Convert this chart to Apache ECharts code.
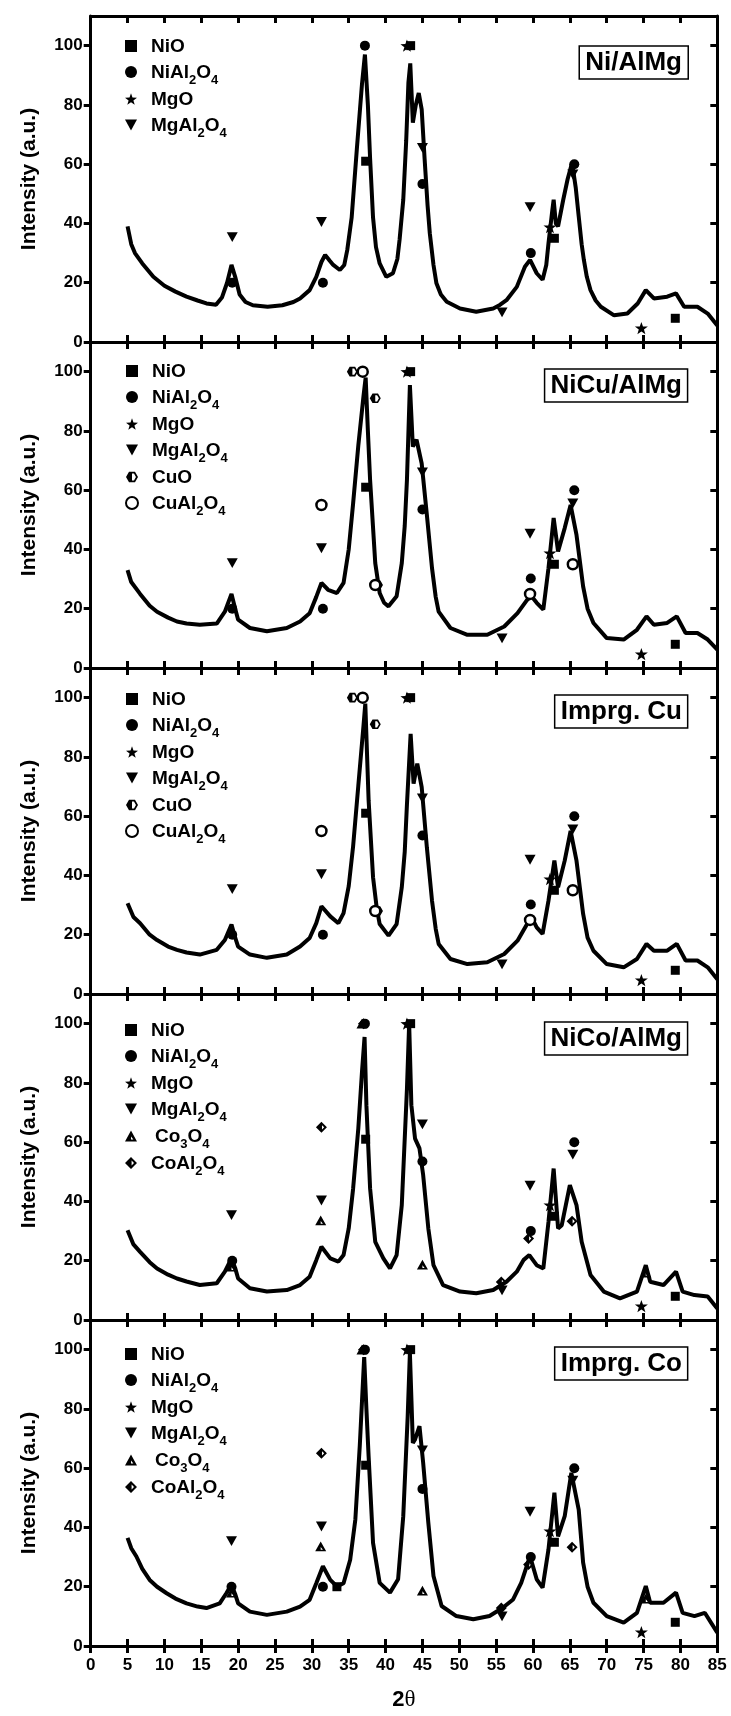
<!DOCTYPE html>
<html>
<head>
<meta charset="utf-8">
<script src="https://cdn.jsdelivr.net/npm/echarts@6/dist/echarts.min.js"></script>
<style>
html, body { margin: 0; padding: 0; background: #fff; }
#main { width: 731px; height: 1716px; }
</style>
</head>
<body>
<div id="main"></div>
<script>
// XRD patterns, [2theta, intensity]
var curveNiAlMg = [[5,39],[5.5,33],[6,30],[7,26.5],[8.5,22],[10,19],[11.5,17],[13,15.3],[14.5,14],[15.7,13],[17,12.6],[17.8,15],[18.5,20],[19.1,26],[19.6,22],[20.2,16],[21,13.5],[22,12.4],[24,11.9],[26,12.4],[27.5,13.5],[28.4,14.7],[29.7,17.5],[30.6,22],[31.3,27],[31.8,29.4],[32.4,27.5],[32.9,26],[33.8,24.3],[34.4,26],[34.8,31],[35.4,42],[36.1,65],[36.8,87],[37.2,97],[37.6,80],[37.9,62],[38.3,42],[38.7,32],[39.2,26.5],[40.1,22],[41,23.2],[41.6,28],[41.9,34.5],[42.4,48],[42.8,68],[43.1,87.6],[43.35,94],[43.7,74],[44.1,80],[44.5,84],[44.9,78.5],[45.3,61.6],[45.7,46],[46,36.7],[46.5,26],[46.9,19.8],[47.5,16],[48.3,13.6],[50.1,11.3],[52.3,10.2],[54.6,11.3],[55.5,12.5],[56.4,14.1],[57.8,18.6],[58.9,25.4],[59.6,27.7],[60.5,23.2],[61.3,21],[61.8,26],[62.1,33.3],[62.6,44],[62.8,48],[63.1,40],[63.4,39],[64.1,48],[64.7,55],[65.3,60.5],[65.8,52],[66.2,42.4],[66.6,33],[66.9,27.7],[67.3,22],[67.8,17.5],[68.5,14],[69.2,11.9],[71,9],[72.8,9.6],[74.2,13],[75.3,17.5],[76.4,14.7],[78.2,15.3],[79.4,16.4],[80.5,11.9],[82.3,11.9],[83.7,9.6],[85,5.6]];
var curveNiCuAlMg = [[5,33],[5.5,29],[6.7,25],[8,21],[9,19],[10.5,17],[11.7,15.7],[13,15],[14.8,14.6],[17.1,15],[18.2,19],[19.1,25],[19.6,20],[20,16.3],[21.6,13.5],[23.9,12.4],[26.6,13.5],[28.4,15.7],[29.7,18.5],[30.6,24],[31.3,28.7],[32.2,26.4],[33.4,25.3],[34.3,28.7],[35,40],[35.6,55.6],[36.3,75],[37,91.6],[37.3,98],[37.6,80],[37.9,63.5],[38.6,35.4],[39.2,25.3],[39.8,22],[40.4,20.8],[41.5,24.2],[42.2,35.4],[42.6,48],[42.9,63.5],[43.3,95.5],[43.7,74.7],[44.2,77],[44.9,69],[45.6,51.7],[46.3,33.7],[46.8,24],[47.2,19],[48.8,13.5],[51.1,11.2],[53.8,11.2],[56.1,14],[57.9,18.5],[59.2,23],[59.8,24.2],[60.5,22],[61.4,19.7],[62.1,33.7],[62.8,50.6],[63.4,39.3],[64.3,47.2],[65.1,55],[65.9,44.9],[66.8,27.5],[67.4,20],[68.2,15.2],[70,10.1],[72.3,9.6],[74.1,12.9],[75.4,17.4],[76.4,14.6],[78.2,15.2],[79.5,17.4],[80.7,11.8],[82.3,11.8],[83.7,9.6],[85,6.2]];
var curveImprgCu = [[5,30.6],[5.8,26],[6.7,23.9],[8,20],[9,18.2],[10.5,16],[11.7,14.9],[13,14],[14.8,13.3],[17.1,14.9],[18.2,18.2],[19.1,23.4],[19.6,19],[20,16],[21.6,13.3],[23.9,12.2],[26.6,13.3],[28.4,16],[29.7,18.9],[30.6,23.9],[31.3,29.6],[32.5,26.2],[33.6,23.9],[34.3,27.3],[35,36.4],[35.6,49.9],[36.3,70.2],[37,90.4],[37.25,98],[37.7,65.3],[38.3,39.4],[38.8,29],[39.2,23.6],[40.4,19.7],[41.5,23.6],[42.2,36],[42.6,48],[42.9,64],[43.4,87.8],[43.8,71],[44.3,77.7],[44.9,69.8],[45.6,49.5],[46.3,31.5],[46.8,22],[47.2,16.9],[48.8,11.8],[51.1,10.1],[53.8,10.7],[56.1,13.5],[57.9,18],[59.2,23.6],[59.8,25.9],[60.5,22.5],[61.3,20.3],[62.1,31.5],[62.9,45],[63.4,36],[64.3,45],[65.1,55],[65.9,45],[66.8,27],[67.4,19],[68.2,14.6],[70,10.1],[72.3,9],[74.1,11.8],[75.4,16.9],[76.4,14.6],[78.2,14.6],[79.5,16.9],[80.7,11.3],[82.3,11.3],[83.7,9],[85,5]];
var curveNiCoAlMg = [[5,30.3],[5.8,25.5],[6.7,23],[8,19.5],[9,17.4],[10.5,15.3],[11.7,14],[13,13],[14.8,11.8],[17.1,12.4],[18.2,16.3],[19.1,20.8],[19.6,17.5],[20,14],[21.6,10.7],[23.9,9.6],[26.6,10.1],[28.4,11.8],[29.7,14.6],[30.6,20.2],[31.3,24.7],[32.5,20.8],[33.6,19.7],[34.3,21.9],[35,30.9],[35.6,44.4],[36.3,64.6],[36.8,83.7],[37.15,95.5],[37.4,72.5],[37.9,44.4],[38.6,26.4],[39.7,20.8],[40.6,17.4],[41.5,21.9],[42.2,38.8],[42.9,78],[43.2,100],[43.5,72.5],[44,61.2],[44.6,57.9],[45.1,48.9],[45.8,30.9],[46.5,18.5],[47.8,11.8],[50.1,9.6],[52.3,9],[54.6,10.1],[56.4,12.9],[57.8,16.3],[58.7,20.2],[59.5,21.9],[60.5,18.5],[61.4,17.4],[62.1,33.1],[62.8,51.1],[63.4,30.9],[63.9,32],[65,45.5],[65.9,38.8],[66.6,26.4],[67.8,15.2],[69.6,9.6],[71.8,7.3],[74.1,9.6],[75.3,18.5],[75.9,12.9],[77.7,11.8],[79.4,16.3],[80.3,9.6],[81.9,8.4],[83.7,7.9],[85,3.9]];
var curveImprgCo = [[5,36.5],[5.5,33],[6.2,30.2],[7,26],[8,22.3],[9,20],[10.3,17.8],[11.5,16],[13,14.4],[14.5,13.3],[15.7,12.8],[17.5,14.4],[18.4,17.8],[19.1,20.7],[19.6,17.5],[20,14.4],[21.6,11.6],[23.9,10.5],[26.6,11.6],[28.4,13.3],[29.7,15.6],[30.6,21.2],[31.5,26.9],[32.5,22.3],[33.4,20.1],[34.3,21.2],[35.2,29.1],[35.9,42.7],[36.5,67.5],[37.1,97.5],[37.4,80],[37.7,64],[38.3,34.8],[39.2,21.3],[40.6,18],[41.7,22.5],[42.4,43.8],[43,77.5],[43.3,98.9],[43.7,68.5],[44,69.7],[44.6,74.2],[45.1,61.8],[45.8,41.6],[46.5,23.6],[47.6,13.5],[49.6,10.1],[51.9,9],[54.1,10.1],[55.9,12.9],[57.3,15.7],[58.4,21.3],[59.6,30.3],[60.5,22.5],[61.3,19.7],[62.1,32.6],[62.9,51.7],[63.4,37],[64.3,43.8],[65.2,58.4],[66.2,46],[66.8,28.1],[67.4,20],[68.2,14.6],[70,10.1],[72.3,7.9],[74.1,11.2],[75.3,20.2],[75.9,14.6],[77.7,14.6],[79.4,18],[80.3,11.2],[81.9,10.1],[83.3,11.2],[85,4.5]];

// phase markers
var nioMarks = [[37.3,61],[43.4,100],[62.9,35],[79.3,8]];
var nioMarksCo = [[33.4,20],[37.3,61],[43.4,100],[62.9,35],[79.3,8]];
var mgoMarks = [[42.9,100],[62.3,38.8],[74.7,4.7]];
var nial1 = [[19.2,20],[31.5,20],[37.2,100],[45,53.3],[59.7,30],[65.6,60]];
var nialCu = [[19.2,20],[31.5,20],[45,53.5],[59.7,30.2],[65.6,60]];
var nialCo4 = [[19.2,20],[37.2,100],[45,53.5],[59.7,30],[65.6,60]];
var nialCo5 = [[19.1,20],[31.5,20],[37.2,100],[45,53],[59.7,30],[65.6,60]];
var mgal1 = [[19.2,35.4],[31.3,40.5],[45,65.5],[55.8,10],[59.6,45.5],[65.4,56.5]];
var mgalCu = [[19.2,35.4],[31.3,40.4],[45,66],[55.8,10],[59.6,45.3],[65.4,55.5]];
var mgalCo = [[19.1,35.4],[31.3,40.3],[45,66],[55.8,10],[59.6,45.3],[65.4,55.8]];
var cuoMarks = [[35.5,100],[38.6,91],[38.9,28]];
var cualMarks = [[31.3,55],[36.9,100],[38.6,28],[59.6,25],[65.4,35]];
var co3o4Marks = [[19.1,18],[31.2,33.6],[36.8,100],[45,18.7],[75.3,16]];
var coalMarks = [[31.3,65],[37,100],[55.7,12.8],[59.4,27.5],[65.3,33.3]];

var yTicks = [0, 20, 40, 60, 80, 100];
var panelNames = ['Ni/AlMg', 'NiCu/AlMg', 'Imprg. Cu', 'NiCo/AlMg', 'Imprg. Co'];

var FONT = '"Liberation Sans", Arial, sans-serif';
var panelTop = [16, 342, 668, 994, 1320];
var panelH = 326;
var legendDy = [20, 19, 21, 26, 24];
var boxTop = [46, 369, 695, 1022, 1347];

var STAR = 'path://M0 -10 L2.35 -3.24 L9.51 -3.09 L3.8 1.24 L5.88 8.09 L0 4 L-5.88 8.09 L-3.8 1.24 L-9.51 -3.09 L-2.35 -3.24 Z';
var DOWN_TRI = 'path://M-10 -8 L10 -8 L0 10 Z';
var HEX_HALF = 'path://M-10 0 L-5 -8.66 L5 -8.66 L10 0 L5 8.66 L-5 8.66 Z M-6.6 0 L-3.3 5.7 L3.3 5.7 L6.6 0 L3.3 -5.7 L-3.3 -5.7 Z M0 -5.7 L-3.3 -5.7 L-6.6 0 L-3.3 5.7 L0 5.7 Z';
var TRI_HOLE = 'path://M0 -10 L10 8 L-10 8 Z M0 0 L0 5 L4 5 Z';
var DIA_HOLE = 'path://M0 -10 L10 0 L0 10 L-10 0 Z M1 -4 L1 4 L5 0 Z';

var symbols = {
  'NiO': { symbol: 'rect', size: 9, style: { color: '#000', opacity: 1 } },
  'NiAl2O4': { symbol: 'circle', size: 10, style: { color: '#000', opacity: 1 } },
  'MgO': { symbol: STAR, size: 13, style: { color: '#000', opacity: 1 } },
  'MgAl2O4': { symbol: DOWN_TRI, size: 11, style: { color: '#000', opacity: 1 } },
  'CuO': { symbol: HEX_HALF, size: 11, style: { color: '#000', opacity: 1 } },
  'CuAl2O4': { symbol: 'circle', size: 10, style: { color: '#fff', borderColor: '#000', borderWidth: 2.5, opacity: 1 } },
  'Co3O4': { symbol: TRI_HOLE, size: 11, style: { color: '#000', opacity: 1 } },
  'CoAl2O4': { symbol: DIA_HOLE, size: 11, style: { color: '#000', opacity: 1 } }
};

var legendText = {
  'NiO': '{f|NiO}',
  'NiAl2O4': '{f|NiAl}{s|2}{m|O}{s|4}',
  'MgO': '{f|MgO}',
  'MgAl2O4': '{f|MgAl}{s|2}{m|O}{s|4}',
  'CuO': '{f|CuO}',
  'CuAl2O4': '{f|CuAl}{s|2}{m|O}{s|4}',
  'Co3O4': '{g|Co}{s|3}{m|O}{s|4}',
  'CoAl2O4': '{f|CoAl}{s|2}{m|O}{s|4}'
};

var panels = [
  { curve: curveNiAlMg, marks: [['NiO', nioMarks], ['NiAl2O4', nial1], ['MgO', mgoMarks], ['MgAl2O4', mgal1]] },
  { curve: curveNiCuAlMg, marks: [['NiO', nioMarks], ['NiAl2O4', nialCu], ['MgO', mgoMarks], ['MgAl2O4', mgalCu], ['CuO', cuoMarks], ['CuAl2O4', cualMarks]] },
  { curve: curveImprgCu, marks: [['NiO', nioMarks], ['NiAl2O4', nialCu], ['MgO', mgoMarks], ['MgAl2O4', mgalCu], ['CuO', cuoMarks], ['CuAl2O4', cualMarks]] },
  { curve: curveNiCoAlMg, marks: [['NiO', nioMarks], ['NiAl2O4', nialCo4], ['MgO', mgoMarks], ['MgAl2O4', mgalCo], ['Co3O4', co3o4Marks], ['CoAl2O4', coalMarks]] },
  { curve: curveImprgCo, marks: [['NiO', nioMarksCo], ['NiAl2O4', nialCo5], ['MgO', mgoMarks], ['MgAl2O4', mgalCo], ['Co3O4', co3o4Marks], ['CoAl2O4', coalMarks]] }
];

var axisLine = { show: true, onZero: false, lineStyle: { color: '#000', width: 3 } };
var tickStyle = { color: '#000', width: 3 };
var mainText = { fontFamily: FONT, fontSize: 19, fontWeight: 'bold', color: '#000', lineHeight: 20, verticalAlign: 'top' };

function xAxisDef(gi, pos, inside) {
  return {
    type: 'value', gridIndex: gi, position: pos, min: 0, max: 85, interval: 5,
    axisLine: axisLine,
    axisTick: { show: true, inside: inside, length: 7, lineStyle: tickStyle },
    axisLabel: { show: false },
    splitLine: { show: false }
  };
}

var grids = [], xAxes = [], yAxes = [], series = [], legends = [], titles = [];

panels.forEach(function (p, i) {
  grids.push({ left: 90.7, right: 13.7, top: panelTop[i], height: panelH });
  xAxes.push(xAxisDef(i, 'bottom', true));
  xAxes.push(xAxisDef(i, 'top', true));
  yAxes.push({
    type: 'value', gridIndex: i, position: 'left', min: 0, max: 110, interval: 20,
    axisLine: axisLine,
    axisTick: { show: true, inside: false, length: 7, lineStyle: tickStyle, customValues: yTicks },
    axisLabel: { show: true, customValues: yTicks, margin: 8, color: '#000', fontFamily: FONT, fontSize: 17, fontWeight: 'bold' },
    splitLine: { show: false },
    name: 'Intensity (a.u.)', nameLocation: 'middle', nameGap: 51,
    nameTextStyle: { color: '#000', fontFamily: FONT, fontSize: 21, fontWeight: 'bold' }
  });
  yAxes.push({
    type: 'value', gridIndex: i, position: 'right', min: 0, max: 110, interval: 20,
    axisLine: axisLine,
    axisTick: { show: true, inside: true, length: 7, lineStyle: tickStyle, customValues: yTicks },
    axisLabel: { show: false },
    splitLine: { show: false }
  });

  series.push({
    name: panelNames[i], type: 'line', xAxisIndex: 2 * i, yAxisIndex: 2 * i,
    data: p.curve, showSymbol: false, symbol: 'none', silent: true,
    lineStyle: { color: '#000', width: 4 }, z: 2
  });
  var names = [];
  p.marks.forEach(function (m) {
    var s = symbols[m[0]];
    names.push(m[0]);
    series.push({
      name: m[0], type: 'scatter', xAxisIndex: 2 * i, yAxisIndex: 2 * i,
      data: m[1], symbol: s.symbol, symbolSize: s.size, symbolKeepAspect: true,
      itemStyle: s.style, clip: false, z: 3
    });
  });

  legends.push({
    orient: 'vertical', left: 125, top: panelTop[i] + legendDy[i], padding: 0,
    itemWidth: 12, itemHeight: 12, itemGap: 2, selectedMode: false,
    data: names,
    formatter: function (n) { return legendText[n]; },
    textStyle: {
      rich: {
        f: Object.assign({}, mainText, { padding: [1, 0, 4, 9] }),
        g: Object.assign({}, mainText, { padding: [1, 0, 4, 13] }),
        m: Object.assign({}, mainText, { padding: [1, 0, 4, 0] }),
        s: { fontFamily: FONT, fontSize: 13, fontWeight: 'bold', color: '#000', lineHeight: 13, verticalAlign: 'top', padding: [12, 0, 0, 0] }
      }
    }
  });

  titles.push({
    text: panelNames[i], right: 43, top: boxTop[i],
    padding: [4, 6, 3, 6], borderColor: '#000', borderWidth: 1.5,
    textStyle: { color: '#000', fontFamily: FONT, fontSize: 26, fontWeight: 'bold' }
  });
});

// overlay grid on the last panel for the labelled bottom axis
grids.push({ left: 90.7, right: 13.7, top: panelTop[4], height: panelH });
xAxes.push({
  type: 'value', gridIndex: 5, position: 'bottom', min: 0, max: 85, interval: 5,
  axisLine: axisLine,
  axisTick: { show: true, inside: false, length: 7, lineStyle: tickStyle },
  axisLabel: { show: true, margin: 11, color: '#000', fontFamily: FONT, fontSize: 17, fontWeight: 'bold' },
  splitLine: { show: false },
  name: '{a|2}{b|θ}', nameLocation: 'middle', nameGap: 42,
  nameTextStyle: {
    rich: {
      a: { fontFamily: FONT, fontSize: 22, fontWeight: 'bold', color: '#000' },
      b: { fontFamily: '"Liberation Serif", "DejaVu Serif", serif', fontSize: 23, color: '#000' }
    }
  }
});
yAxes.push({ type: 'value', gridIndex: 5, min: 0, max: 110, show: false });

var myChart = echarts.init(document.getElementById('main'), null, { renderer: 'canvas' });
myChart.setOption({
  animation: false,
  backgroundColor: '#fff',
  title: titles,
  legend: legends,
  grid: grids,
  xAxis: xAxes,
  yAxis: yAxes,
  series: series
});
</script>
</body>
</html>
